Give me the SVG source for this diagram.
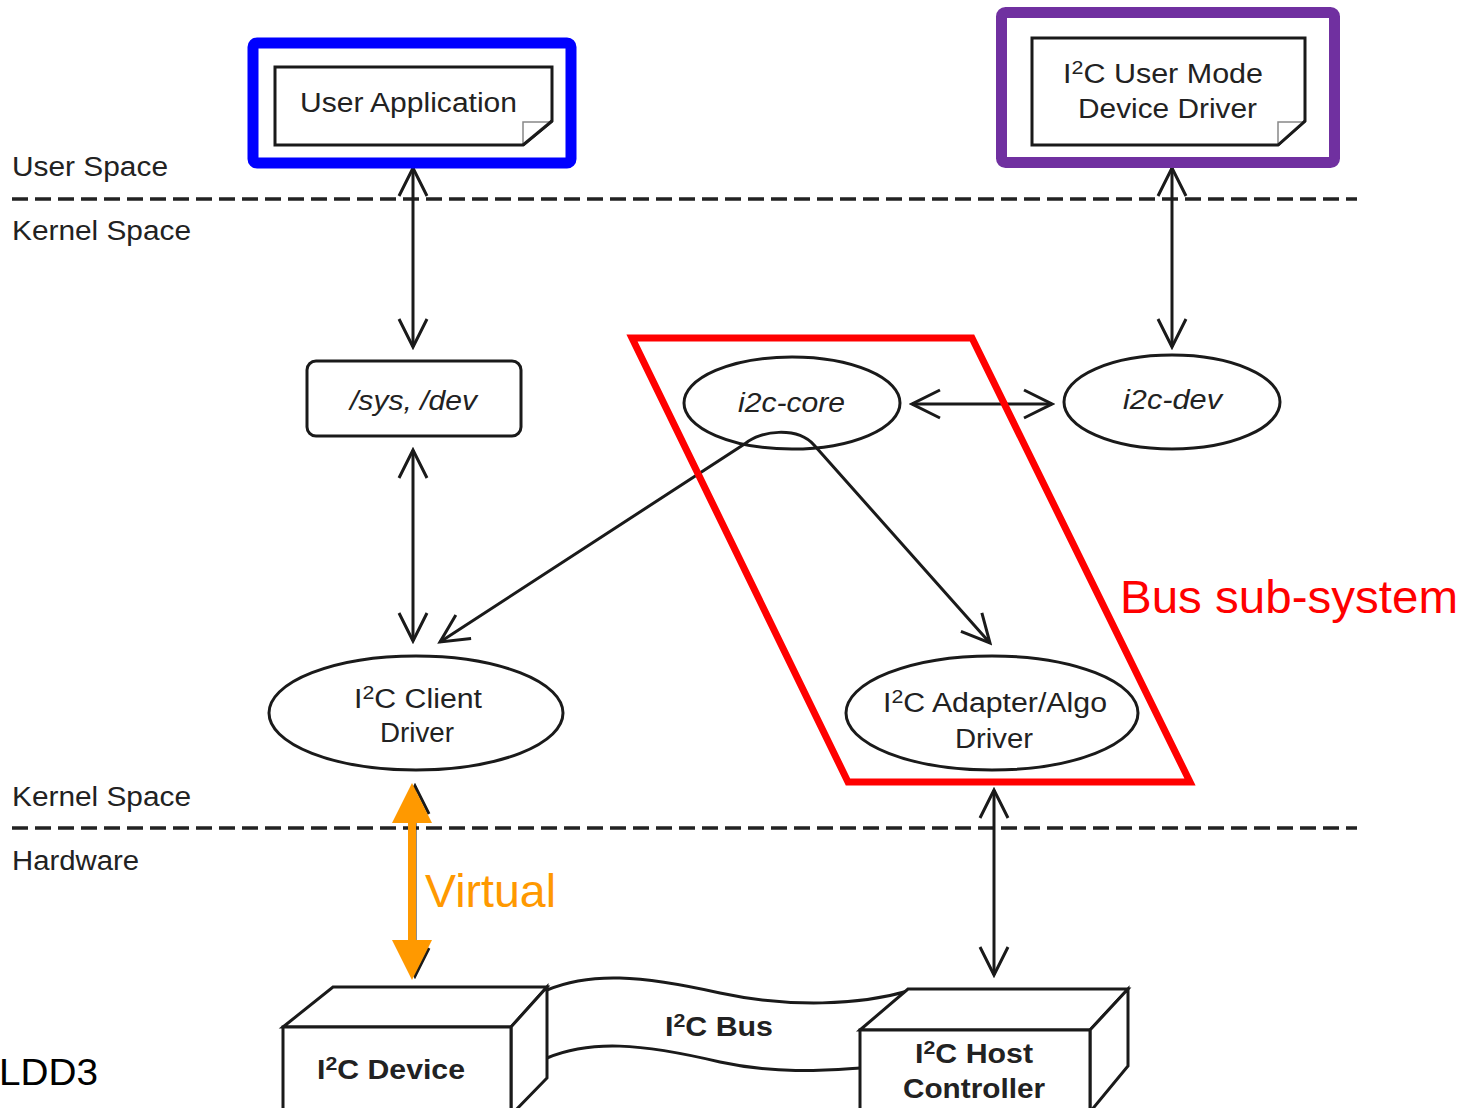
<svg xmlns="http://www.w3.org/2000/svg" width="1468" height="1108" viewBox="0 0 1468 1108">
  <style>
    .lbl { font-family: "Liberation Sans", Arial, sans-serif; font-size: 27px; fill: #222; }
    .it { font-style: italic; }
    .bold { font-weight: bold; }
    .shape { fill: #fff; stroke: #1a1a1a; stroke-width: 3; }
    .fold { fill: #fff; stroke: #888; stroke-width: 1.5; }
    .line { fill: none; stroke: #1a1a1a; stroke-width: 3; }
    .dash { fill: none; stroke: #222; stroke-width: 3.5; stroke-dasharray: 16 7; }
    .sup { font-size: 19px; }
  </style>
  <defs>
    <marker id="vhead" markerUnits="userSpaceOnUse" markerWidth="34" markerHeight="34" viewBox="0 0 34 34" refX="31" refY="17" orient="auto-start-reverse">
      <path d="M3,3 L31,17 L3,31" fill="none" stroke="#1a1a1a" stroke-width="3"/>
    </marker>
  </defs>

  <rect width="1468" height="1108" fill="#fff"/>

  <!-- layer boundaries -->
  <g id="layers">
    <line class="dash" x1="12" y1="199" x2="1357" y2="199"/>
    <line class="dash" x1="12" y1="828" x2="1357" y2="828"/>
    <text class="lbl" x="12" y="176" textLength="156" lengthAdjust="spacingAndGlyphs">User Space</text>
    <text class="lbl" x="12" y="240" textLength="179" lengthAdjust="spacingAndGlyphs">Kernel Space</text>
    <text class="lbl" x="12" y="806" textLength="179" lengthAdjust="spacingAndGlyphs">Kernel Space</text>
    <text class="lbl" x="12" y="870" textLength="127" lengthAdjust="spacingAndGlyphs">Hardware</text>
  </g>

  <!-- connectors -->
  <g id="connectors">
    <line class="line" x1="413" y1="168" x2="413" y2="347" marker-start="url(#vhead)" marker-end="url(#vhead)"/>
    <line class="line" x1="413" y1="450" x2="413" y2="641" marker-start="url(#vhead)" marker-end="url(#vhead)"/>
    <line class="line" x1="1172" y1="168" x2="1172" y2="347" marker-start="url(#vhead)" marker-end="url(#vhead)"/>
    <line class="line" x1="912" y1="404" x2="1052" y2="404" marker-start="url(#vhead)" marker-end="url(#vhead)"/>
    <line class="line" x1="994" y1="790" x2="994" y2="975" marker-start="url(#vhead)" marker-end="url(#vhead)"/>
    <line class="line" x1="415" y1="786" x2="415" y2="976" marker-start="url(#vhead)" marker-end="url(#vhead)"/>
  </g>

  <!-- user space nodes -->
  <g id="user-application">
    <path class="shape" d="M275,67 H552 V121 L523,145 H275 Z"/>
    <path class="fold" d="M523,144 V122 H551"/>
    <path class="line" d="M552,121 L523,145"/>
    <text class="lbl" x="300" y="112" textLength="217" lengthAdjust="spacingAndGlyphs">User Application</text>
  </g>
  <g id="user-mode-driver">
    <path class="shape" d="M1032,38 H1305 V121 L1278,145 H1032 Z"/>
    <path class="fold" d="M1278,144 V122 H1304"/>
    <path class="line" d="M1305,121 L1278,145"/>
    <text class="lbl" x="1063" y="83" textLength="200" lengthAdjust="spacingAndGlyphs">I<tspan class="sup" dy="-9">2</tspan><tspan dy="9">C User Mode</tspan></text>
    <text class="lbl" x="1078" y="118" textLength="179" lengthAdjust="spacingAndGlyphs">Device Driver</text>
  </g>

  <!-- kernel nodes -->
  <g id="sys-dev">
    <rect class="shape" x="307" y="361" width="214" height="75" rx="9"/>
    <text class="lbl it" x="350" y="410" textLength="127" lengthAdjust="spacingAndGlyphs">/sys, /dev</text>
  </g>
  <g id="i2c-core">
    <ellipse class="shape" cx="792" cy="403" rx="108" ry="46"/>
    <text class="lbl it" x="738" y="412" textLength="107" lengthAdjust="spacingAndGlyphs">i2c-core</text>
  </g>
  <g id="i2c-dev">
    <ellipse class="shape" cx="1172" cy="402" rx="108" ry="47"/>
    <text class="lbl it" x="1123" y="409" textLength="99" lengthAdjust="spacingAndGlyphs">i2c-dev</text>
  </g>
  <g id="client-driver">
    <ellipse class="shape" cx="416" cy="713" rx="147" ry="57"/>
    <text class="lbl" x="354" y="708" textLength="128" lengthAdjust="spacingAndGlyphs">I<tspan class="sup" dy="-9">2</tspan><tspan dy="9">C Client</tspan></text>
    <text class="lbl" x="380" y="742" textLength="74" lengthAdjust="spacingAndGlyphs">Driver</text>
  </g>
  <g id="adapter-driver">
    <ellipse class="shape" cx="992" cy="713" rx="146" ry="57"/>
    <text class="lbl" x="883" y="712" textLength="224" lengthAdjust="spacingAndGlyphs">I<tspan class="sup" dy="-9">2</tspan><tspan dy="9">C Adapter/Algo</tspan></text>
    <text class="lbl" x="955" y="748" textLength="78" lengthAdjust="spacingAndGlyphs">Driver</text>
  </g>

  <!-- core fan-out to client and adapter drivers -->
  <g id="core-links">
    <path class="line" d="M440,642 L746,443 C760,431 797,426 814,445 L990,643" marker-start="url(#vhead)" marker-end="url(#vhead)"/>
  </g>

  <!-- hardware -->
  <g id="i2c-bus">
    <path d="M547,990 C590,972 640,975 720,993 C790,1008 860,1005 908,991 L860,1068 C830,1070 780,1075 720,1062 C640,1043 590,1040 547,1058 Z" fill="#fff"/>
    <path class="line" d="M547,990 C590,972 640,975 720,993 C790,1008 860,1005 908,991"/>
    <path class="line" d="M547,1058 C590,1040 640,1043 720,1062 C780,1075 830,1070 860,1068"/>
    <text class="lbl bold" x="665" y="1036" textLength="108" lengthAdjust="spacingAndGlyphs">I<tspan class="sup" dy="-9">2</tspan><tspan dy="9">C Bus</tspan></text>
  </g>
  <g id="i2c-device">
    <path class="shape" d="M283,1027 L333,987 H547 L511,1027 Z"/>
    <path class="shape" d="M511,1027 L547,987 V1078 L511,1115 Z"/>
    <rect class="shape" x="283" y="1027" width="228" height="90"/>
    <text class="lbl bold" x="317" y="1079" textLength="148" lengthAdjust="spacingAndGlyphs">I<tspan class="sup" dy="-9">2</tspan><tspan dy="9">C Device</tspan></text>
  </g>
  <g id="host-controller">
    <path class="shape" d="M860,1030 L908,989 H1128 L1090,1030 Z"/>
    <path class="shape" d="M1090,1030 L1128,989 V1066 L1090,1112 Z"/>
    <rect class="shape" x="860" y="1030" width="230" height="90"/>
    <text class="lbl bold" x="915" y="1063" textLength="118" lengthAdjust="spacingAndGlyphs">I<tspan class="sup" dy="-9">2</tspan><tspan dy="9">C Host</tspan></text>
    <text class="lbl bold" x="903" y="1098" textLength="142" lengthAdjust="spacingAndGlyphs">Controller</text>
  </g>

  <!-- highlight frames -->
  <g id="highlights">
    <rect x="253" y="43" width="318" height="120" rx="4" fill="none" stroke="#0000ff" stroke-width="11"/>
    <rect x="1001.5" y="12.5" width="333" height="150" rx="4" fill="none" stroke="#7030a0" stroke-width="11"/>
    <path d="M632,338 H972 L1190,782 H848 Z" fill="none" stroke="#ff0000" stroke-width="7" stroke-linejoin="miter"/>
    <text x="1120" y="613" font-family="Liberation Sans, Arial, sans-serif" font-size="47" fill="#ff0000" textLength="338" lengthAdjust="spacingAndGlyphs">Bus sub-system</text>
  </g>

  <g id="virtual-link" fill="#ff9900">
    <rect x="408" y="818" width="8" height="127"/>
    <path d="M412,783 L432,823 H392 Z"/>
    <path d="M412,980 L432,940 H392 Z"/>
    <text x="425" y="907" font-family="Liberation Sans, Arial, sans-serif" font-size="47" textLength="131" lengthAdjust="spacingAndGlyphs">Virtual</text>
  </g>

  <text x="-1" y="1085" font-family="Liberation Sans, Arial, sans-serif" font-size="37" fill="#000" textLength="99" lengthAdjust="spacingAndGlyphs">LDD3</text>
</svg>
